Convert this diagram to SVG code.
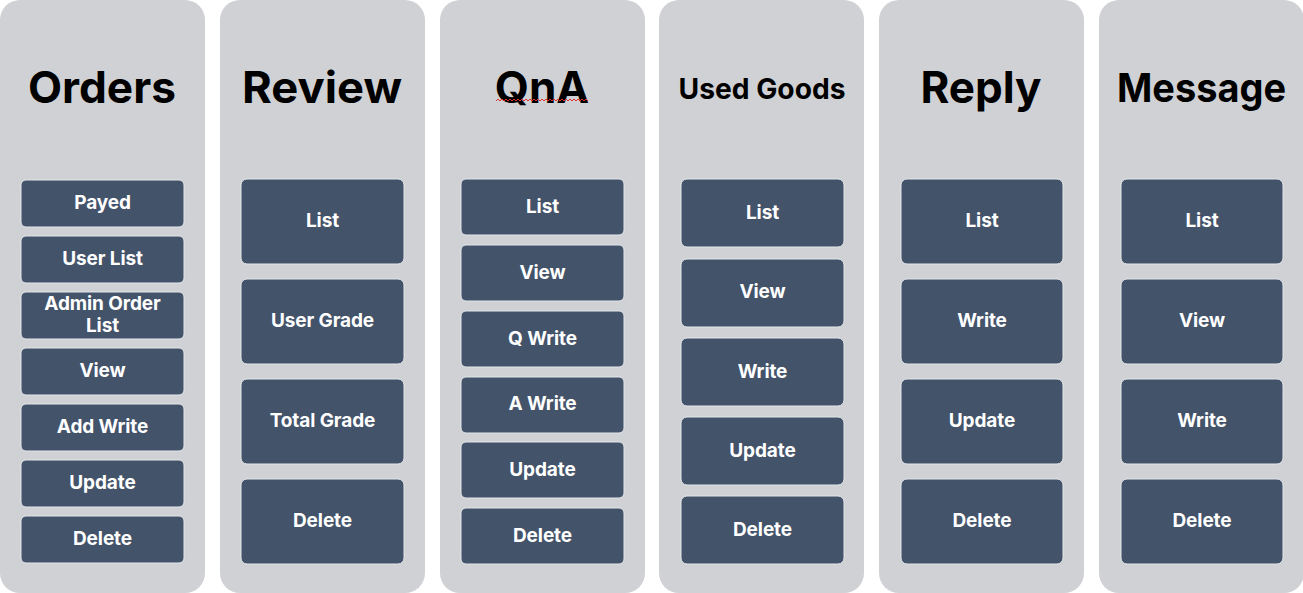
<svg xmlns="http://www.w3.org/2000/svg" width="1303" height="593" viewBox="0 0 1303 593">
<style>
.panel{fill:#d0d1d5}
.box{fill:#43536a;stroke:#e4e6ea;stroke-width:1}
.title{font-family:Inter,"Noto Sans","Liberation Sans",sans-serif;font-weight:700;fill:#000;text-anchor:middle}
.t1{font-size:44px}
.t2{font-size:29px}
.lbl{font-family:Inter,"Noto Sans","Liberation Sans",sans-serif;font-weight:700;font-size:19px;fill:#fff;text-anchor:middle;letter-spacing:-0.1px}
</style>
<rect width="1303" height="593" fill="#ffffff"/>
<g id="orders">
<rect class="panel" x="0" y="0" width="205" height="593" rx="20"/>
<text class="title t1" x="102" y="103" textLength="148" lengthAdjust="spacingAndGlyphs">Orders</text>
<rect class="box" x="21" y="180" width="163" height="47" rx="5"/><text class="lbl" x="102.5" y="209">Payed</text>
<rect class="box" x="21" y="236" width="163" height="47" rx="5"/><text class="lbl" x="102.5" y="265">User List</text>
<rect class="box" x="21" y="292" width="163" height="47" rx="5"/><text class="lbl" x="102.5" y="310">Admin Order</text><text class="lbl" x="102.5" y="332">List</text>
<rect class="box" x="21" y="348" width="163" height="47" rx="5"/><text class="lbl" x="102.5" y="377">View</text>
<rect class="box" x="21" y="404" width="163" height="47" rx="5"/><text class="lbl" x="102.5" y="433">Add Write</text>
<rect class="box" x="21" y="460" width="163" height="47" rx="5"/><text class="lbl" x="102.5" y="489">Update</text>
<rect class="box" x="21" y="516" width="163" height="47" rx="5"/><text class="lbl" x="102.5" y="545">Delete</text>
</g>
<g id="review">
<rect class="panel" x="220" y="0" width="205" height="593" rx="20"/>
<text class="title t1" x="322" y="103" textLength="160" lengthAdjust="spacingAndGlyphs">Review</text>
<rect class="box" x="241" y="179" width="163" height="85" rx="6"/><text class="lbl" x="322.5" y="227">List</text>
<rect class="box" x="241" y="279" width="163" height="85" rx="6"/><text class="lbl" x="322.5" y="327">User Grade</text>
<rect class="box" x="241" y="379" width="163" height="85" rx="6"/><text class="lbl" x="322.5" y="427">Total Grade</text>
<rect class="box" x="241" y="479" width="163" height="85" rx="6"/><text class="lbl" x="322.5" y="527">Delete</text>
</g>
<g id="qna">
<rect class="panel" x="440" y="0" width="205" height="593" rx="20"/>
<text class="title t1" x="542" y="103">QnA</text>
<path d="M496,101 l2,-2 l2,2 l2,-2 l2,2 l2,-2 l2,2 l2,-2 l2,2 l2,-2 l2,2 l2,-2 l2,2 l2,-2 l2,2 l2,-2 l2,2 l2,-2 l2,2 l2,-2 l2,2 l2,-2 l2,2 l2,-2 l2,2 l2,-2 l2,2 l2,-2 l2,2 l2,-2 l2,2 l2,-2 l2,2 l2,-2 l2,2 l2,-2 l2,2 l2,-2 l2,2 l2,-2 l2,2 l2,-2 l2,2 l2,-2 l2,2 l2,-2 l2,2" fill="none" stroke="#e03030" stroke-width="1"/>
<rect class="box" x="461" y="179" width="163" height="56" rx="5"/><text class="lbl" x="542.5" y="213">List</text>
<rect class="box" x="461" y="245" width="163" height="56" rx="5"/><text class="lbl" x="542.5" y="279">View</text>
<rect class="box" x="461" y="311" width="163" height="56" rx="5"/><text class="lbl" x="542.5" y="345">Q Write</text>
<rect class="box" x="461" y="377" width="163" height="56" rx="5"/><text class="lbl" x="542.5" y="410">A Write</text>
<rect class="box" x="461" y="442" width="163" height="56" rx="5"/><text class="lbl" x="542.5" y="476">Update</text>
<rect class="box" x="461" y="508" width="163" height="56" rx="5"/><text class="lbl" x="542.5" y="542">Delete</text>
</g>
<g id="used-goods">
<rect class="panel" x="659" y="0" width="205" height="593" rx="20"/>
<text class="title t2" x="762" y="99" textLength="167" lengthAdjust="spacingAndGlyphs">Used Goods</text>
<rect class="box" x="681" y="179" width="163" height="68" rx="6"/><text class="lbl" x="762.5" y="219">List</text>
<rect class="box" x="681" y="259" width="163" height="68" rx="6"/><text class="lbl" x="762.5" y="298">View</text>
<rect class="box" x="681" y="338" width="163" height="68" rx="6"/><text class="lbl" x="762.5" y="378">Write</text>
<rect class="box" x="681" y="417" width="163" height="68" rx="6"/><text class="lbl" x="762.5" y="457">Update</text>
<rect class="box" x="681" y="496" width="163" height="68" rx="6"/><text class="lbl" x="762.5" y="536">Delete</text>
</g>
<g id="reply">
<rect class="panel" x="879" y="0" width="205" height="593" rx="20"/>
<text class="title t1" x="981" y="103">Reply</text>
<rect class="box" x="901" y="179" width="162" height="85" rx="6"/><text class="lbl" x="982" y="227">List</text>
<rect class="box" x="901" y="279" width="162" height="85" rx="6"/><text class="lbl" x="982" y="327">Write</text>
<rect class="box" x="901" y="379" width="162" height="85" rx="6"/><text class="lbl" x="982" y="427">Update</text>
<rect class="box" x="901" y="479" width="162" height="85" rx="6"/><text class="lbl" x="982" y="527">Delete</text>
</g>
<g id="message">
<rect class="panel" x="1099" y="0" width="205" height="593" rx="20"/>
<text class="title" x="1201.5" y="102" font-size="40" textLength="169" lengthAdjust="spacingAndGlyphs">Message</text>
<rect class="box" x="1121" y="179" width="162" height="85" rx="6"/><text class="lbl" x="1202" y="227">List</text>
<rect class="box" x="1121" y="279" width="162" height="85" rx="6"/><text class="lbl" x="1202" y="327">View</text>
<rect class="box" x="1121" y="379" width="162" height="85" rx="6"/><text class="lbl" x="1202" y="427">Write</text>
<rect class="box" x="1121" y="479" width="162" height="85" rx="6"/><text class="lbl" x="1202" y="527">Delete</text>
</g>
<g id="connectors"></g>
</svg>
